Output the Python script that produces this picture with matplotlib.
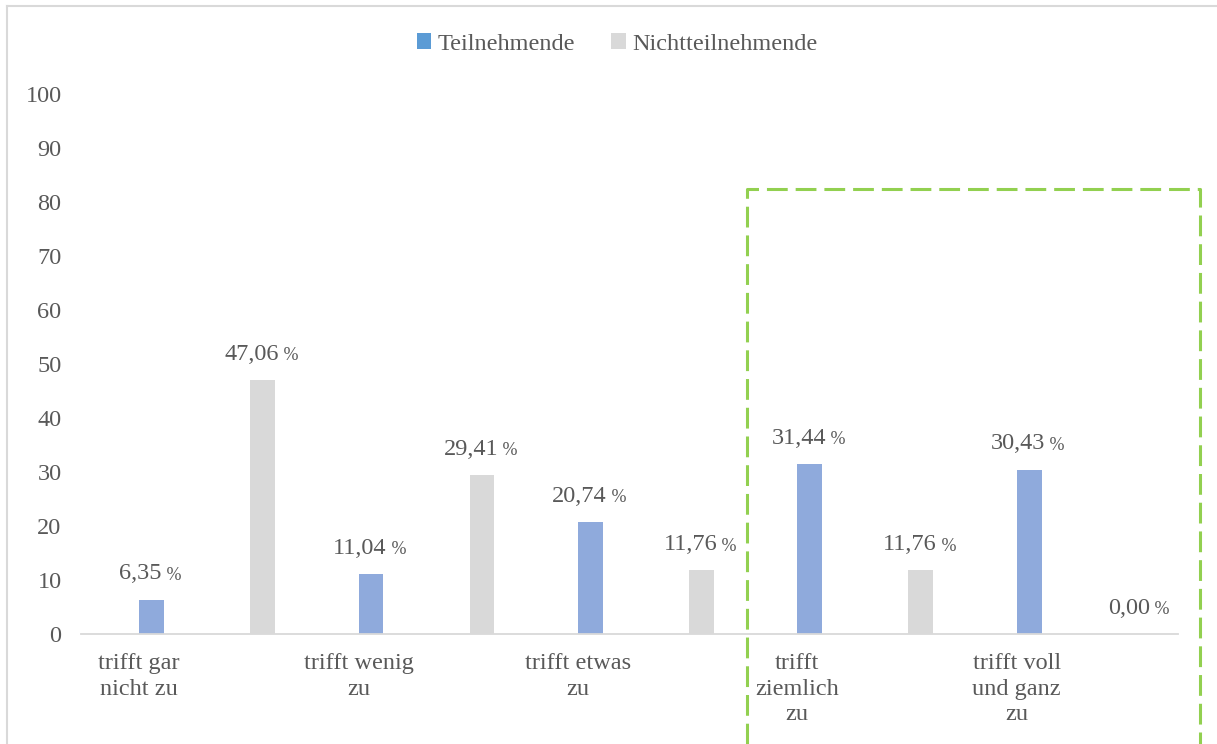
import matplotlib.pyplot as plt
from matplotlib.patches import Patch
from matplotlib.lines import Line2D

categories = ["trifft gar\nnicht zu", "trifft wenig\nzu", "trifft etwas\nzu",
              "trifft\nziemlich\nzu", "trifft voll\nund ganz\nzu"]
teilnehmende = [6.35, 11.04, 20.74, 31.44, 30.43]
nichtteilnehmende = [47.06, 29.41, 11.76, 11.76, 0.00]
yticks = [0, 10, 20, 30, 40, 50, 60, 70, 80, 90, 100]

plt.rcParams['font.family'] = ['Liberation Serif', 'DejaVu Serif']
TXT = '#595959'
BLUE = '#8FAADC'
GREY = '#D9D9D9'

W, H = 1217, 744
fig = plt.figure(figsize=(W / 100, H / 100), dpi=100)
ax = fig.add_axes([81 / W, (H - 634) / H, (1178 - 81) / W, (634 - 94) / H])

n = len(categories)
x_blue = [i + 0.322 for i in range(n)]
x_grey = [i + 0.828 for i in range(n)]
bw = 0.113
ax.bar(x_blue, teilnehmende, width=bw, color=BLUE)
ax.bar(x_grey, nichtteilnehmende, width=bw, color=GREY)

ax.set_xlim(0, n)
ax.set_ylim(0, 100)
ax.set_yticks(yticks)
ax.set_yticklabels([str(v) for v in yticks], fontsize=17.5, color=TXT)
ax.tick_params(axis='y', length=0, pad=14)
ax.set_xticks([])
for s in ['top', 'right', 'left']:
    ax.spines[s].set_visible(False)
ax.spines['bottom'].set_color(GREY)
ax.spines['bottom'].set_linewidth(1.3)

# category labels below the axis
for i, lab in enumerate(categories):
    ax.annotate(lab, xy=(i + 0.265, 0), xytext=(0, -14), textcoords='offset points',
                ha='center', va='top', fontsize=17.5, color=TXT, linespacing=1.27,
                annotation_clip=False)


def value_label(x, v):
    num = f"{v:.2f}".replace('.', ',')
    t = ax.annotate(num, xy=(x, v), xytext=(-8, 11), textcoords='offset points',
                    ha='center', va='bottom', fontsize=17.5, color=TXT)
    ax.annotate(' %', xy=(1, 0.03), xycoords=t, ha='left', va='bottom',
                fontsize=13, color=TXT)


for x, v in zip(x_blue, teilnehmende):
    value_label(x, v)
for x, v in zip(x_grey, nichtteilnehmende):
    value_label(x, v)

# legend
handles = [Patch(facecolor='#5B9BD5', label='Teilnehmende'),
           Patch(facecolor=GREY, label='Nichtteilnehmende')]
fig.legend(handles=handles, loc='center', bbox_to_anchor=(617 / W, 1 - 44 / H),
           ncol=2, frameon=False, fontsize=17.5, labelcolor=TXT,
           handlelength=0.6, handleheight=0.6, handletextpad=0.25,
           columnspacing=1.5)

# chart border (left and top) and dashed highlight box
fig.add_artist(Line2D([7 / W, 7 / W], [0, 1 - 6 / H], color=GREY, lw=1.5))
fig.add_artist(Line2D([7 / W, 1], [1 - 6 / H, 1 - 6 / H], color=GREY, lw=1.5))
box_x = [747 / W, 747 / W, 1200 / W, 1200 / W]
box_y = [0, 1 - 189 / H, 1 - 189 / H, 0]
fig.add_artist(Line2D(box_x, box_y, color='#92D050', lw=2.2,
                      linestyle=(0, (6.8, 2.6))))

fig.savefig('out.png', dpi=100)
